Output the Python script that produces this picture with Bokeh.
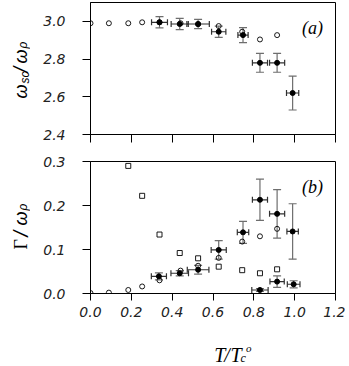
import numpy as np
from bokeh.plotting import figure
from bokeh.layouts import column, row
from bokeh.models import (ColumnDataSource, Whisker, TeeHead, Label, FixedTicker,
                          NumeralTickFormatter, Range1d)
from bokeh.core.properties import value
from bokeh.embed import file_html
from bokeh.resources import INLINE

# ---------------- data ----------------
x_ticks = [0.0, 0.2, 0.4, 0.6, 0.8, 1.0, 1.2]
top_ticks = [2.4, 2.6, 2.8, 3.0]
bot_ticks = [0.0, 0.1, 0.2, 0.3]

# panel (a): omega_sc / omega_rho
a_open_x = [0.0, 0.09, 0.185, 0.253, 0.338, 0.441, 0.527, 0.628, 0.743, 0.83, 0.914]
a_open_y = [2.99, 2.99, 2.99, 2.995, 2.995, 2.99, 2.985, 2.975, 2.945, 2.904, 2.927]

a_fill_x = [0.338, 0.437, 0.527, 0.628, 0.747, 0.83, 0.914, 0.99]
a_fill_y = [2.995, 2.986, 2.986, 2.945, 2.927, 2.78, 2.78, 2.62]
a_fill_yerr = [0.03, 0.03, 0.025, 0.03, 0.04, 0.05, 0.05, 0.09]
a_fill_xerr = [0.039, 0.042, 0.055, 0.035, 0.025, 0.037, 0.037, 0.03]

# panel (b): Gamma / omega_rho
b_open_x = [0.0, 0.09, 0.185, 0.253, 0.338, 0.441, 0.527, 0.628, 0.743, 0.83, 0.914]
b_open_y = [0.001, 0.002, 0.008, 0.016, 0.030, 0.052, 0.063, 0.081, 0.118, 0.130, 0.147]

b_sq_x = [0.185, 0.253, 0.338, 0.437, 0.527, 0.628, 0.743, 0.83, 0.914]
b_sq_y = [0.290, 0.222, 0.134, 0.092, 0.080, 0.061, 0.053, 0.046, 0.055]

b_fill_x = [0.335, 0.437, 0.527, 0.628, 0.747, 0.83, 0.914, 0.99]
b_fill_y = [0.039, 0.046, 0.054, 0.099, 0.139, 0.213, 0.181, 0.141]
b_fill_yerr = [0.008, 0.006, 0.01, 0.021, 0.025, 0.047, 0.055, 0.063]
b_fill_xerr = [0.037, 0.043, 0.053, 0.037, 0.028, 0.037, 0.037, 0.028]

b_low_x = [0.83, 0.914, 0.995]
b_low_y = [0.008, 0.027, 0.021]
b_low_yerr = [0.003, 0.013, 0.008]
b_low_xerr = [0.04, 0.035, 0.031]

# ---------------- styling ----------------
TICK_FONT = "DejaVu Sans"
VCOL = "#6e6e6e"
HCOL = "#303030"
XMAX = 1.2
LW = 30          # width of the strip that holds the y labels
PAGE_H = 366


def style(p, yticks):
    p.xgrid.visible = False
    p.ygrid.visible = False
    p.outline_line_color = "black"
    p.outline_line_width = 1
    for ax in (p.xaxis[0], p.yaxis[0]):
        ax.axis_line_color = "black"
        ax.major_tick_line_color = "black"
        ax.minor_tick_line_color = None
        ax.major_tick_in = 0
        ax.major_tick_out = 8
        ax.major_label_text_font = TICK_FONT
        ax.major_label_text_font_style = "italic"
        ax.major_label_text_font_size = "14px"
        ax.major_label_text_color = "#222222"
        ax.formatter = NumeralTickFormatter(format="0.0")
    p.xaxis[0].ticker = FixedTicker(ticks=x_ticks)
    p.yaxis[0].ticker = FixedTicker(ticks=yticks)
    p.yaxis[0].major_label_standoff = 17
    p.xaxis[0].major_label_standoff = 6


def errbars(p, xs, ys, xerr, yerr):
    src = ColumnDataSource(dict(
        x=xs, y=ys,
        yl=[y - e for y, e in zip(ys, yerr)], yu=[y + e for y, e in zip(ys, yerr)],
        xl=[x - e for x, e in zip(xs, xerr)], xu=[x + e for x, e in zip(xs, xerr)],
    ))
    p.add_layout(Whisker(source=src, base="x", lower="yl", upper="yu", dimension="height",
                         line_color=VCOL, line_width=1.2,
                         lower_head=TeeHead(size=8, line_color=VCOL, line_width=1.2),
                         upper_head=TeeHead(size=8, line_color=VCOL, line_width=1.2)))
    p.add_layout(Whisker(source=src, base="y", lower="xl", upper="xu", dimension="width",
                         line_color=HCOL, line_width=1.2,
                         lower_head=TeeHead(size=6, line_color=HCOL, line_width=1.2),
                         upper_head=TeeHead(size=6, line_color=HCOL, line_width=1.2)))
    p.scatter(xs, ys, marker="circle", size=5, fill_color="black", line_color="black")


def panel_label(p, x, y, text):
    p.add_layout(Label(x=x, y=y, x_units="data", y_units="data", text=text,
                       text_font="Liberation Serif", text_font_style="italic",
                       text_font_size="18px", text_align="center",
                       text_baseline="middle", text_color="black"))


def blank_fig(w, h, x0, y0):
    # a text-only strip whose data coordinates equal page pixels
    f = figure(width=w, height=h, output_backend="svg", toolbar_location=None, title=None,
               x_range=Range1d(x0, x0 + w), y_range=Range1d(PAGE_H - y0 - h, PAGE_H - y0),
               x_axis_type=None, y_axis_type=None, min_border=0)
    f.outline_line_color = None
    f.xgrid.visible = False
    f.ygrid.visible = False
    return f


def txt(f, px, py, s, size, font="Liberation Sans", fstyle="italic", angle=0.0):
    f.text(x=[px], y=[PAGE_H - py], text=[s], text_font=value(font),
           text_font_style=fstyle, text_font_size=size, angle=angle,
           text_align="left", text_baseline="alphabetic", text_color="black")


# ---------------- top panel (a) ----------------
p1 = figure(width=315, height=154, output_backend="svg", toolbar_location=None,
            title=None, x_range=Range1d(0, XMAX), y_range=Range1d(2.4, 3.1),
            min_border_left=60, min_border_right=10, min_border_top=2, min_border_bottom=20)
style(p1, top_ticks)
p1.xaxis[0].major_label_overrides = {t: "" for t in x_ticks}
p1.xaxis[0].major_label_standoff = 0

p1.scatter(a_open_x, a_open_y, marker="circle", size=5, fill_color=None,
           line_color="black", line_width=0.9)
errbars(p1, a_fill_x, a_fill_y, a_fill_xerr, a_fill_yerr)
panel_label(p1, 1.087, 2.965, "(a)")

# ---------------- bottom panel (b) ----------------
p2 = figure(width=315, height=181, output_backend="svg", toolbar_location=None,
            title=None, x_range=Range1d(0, XMAX), y_range=Range1d(0.0, 0.3),
            min_border_left=60, min_border_right=10, min_border_top=7, min_border_bottom=42)
style(p2, bot_ticks)
p2.xaxis[0].major_tick_out = 7

p2.scatter(b_sq_x, b_sq_y, marker="square", size=5, fill_color=None,
           line_color="black", line_width=0.9)
p2.scatter(b_open_x, b_open_y, marker="circle", size=5, fill_color=None,
           line_color="black", line_width=0.9)
errbars(p2, b_fill_x, b_fill_y, b_fill_xerr, b_fill_yerr)
errbars(p2, b_low_x, b_low_y, b_low_xerr, b_low_yerr)
panel_label(p2, 1.087, 0.241, "(b)")

# ---------------- y-axis titles (left strip) ----------------
yl = blank_fig(LW, 335, 0, 0)
R = np.pi / 2
txt(yl, 20, 98, "ω", "18px", angle=R)
txt(yl, 24, 83, "sc", "12px", angle=R)
txt(yl, 20, 72, "/", "20px", angle=R)
txt(yl, 20, 63, "ω", "18px", angle=R)
txt(yl, 22, 48, "ρ", "12px", angle=R)

txt(yl, 20, 249, "Γ", "18px", font="Liberation Serif", fstyle="normal", angle=R)
txt(yl, 20, 236, "/", "20px", angle=R)
txt(yl, 20, 225, "ω", "18px", angle=R)
txt(yl, 22, 210, "ρ", "12px", angle=R)

# ---------------- x-axis title (bottom strip) ----------------
xl = blank_fig(315, 31, LW, 335)
txt(xl, 189, 354, "T", "20px", font="Liberation Serif")
txt(xl, 202, 354, "/", "20px", font="Liberation Serif")
txt(xl, 210, 354, "T", "20px", font="Liberation Serif")
txt(xl, 223, 357, "c", "12px", font="Liberation Serif")
txt(xl, 230, 347, "o", "11px", font="Liberation Serif")

blank_bottom = blank_fig(LW, 31, 0, 335)

layout = row(column(yl, blank_bottom, spacing=0), column(p1, p2, xl, spacing=0), spacing=0)

open("out.html", "w").write(file_html(layout, INLINE))
